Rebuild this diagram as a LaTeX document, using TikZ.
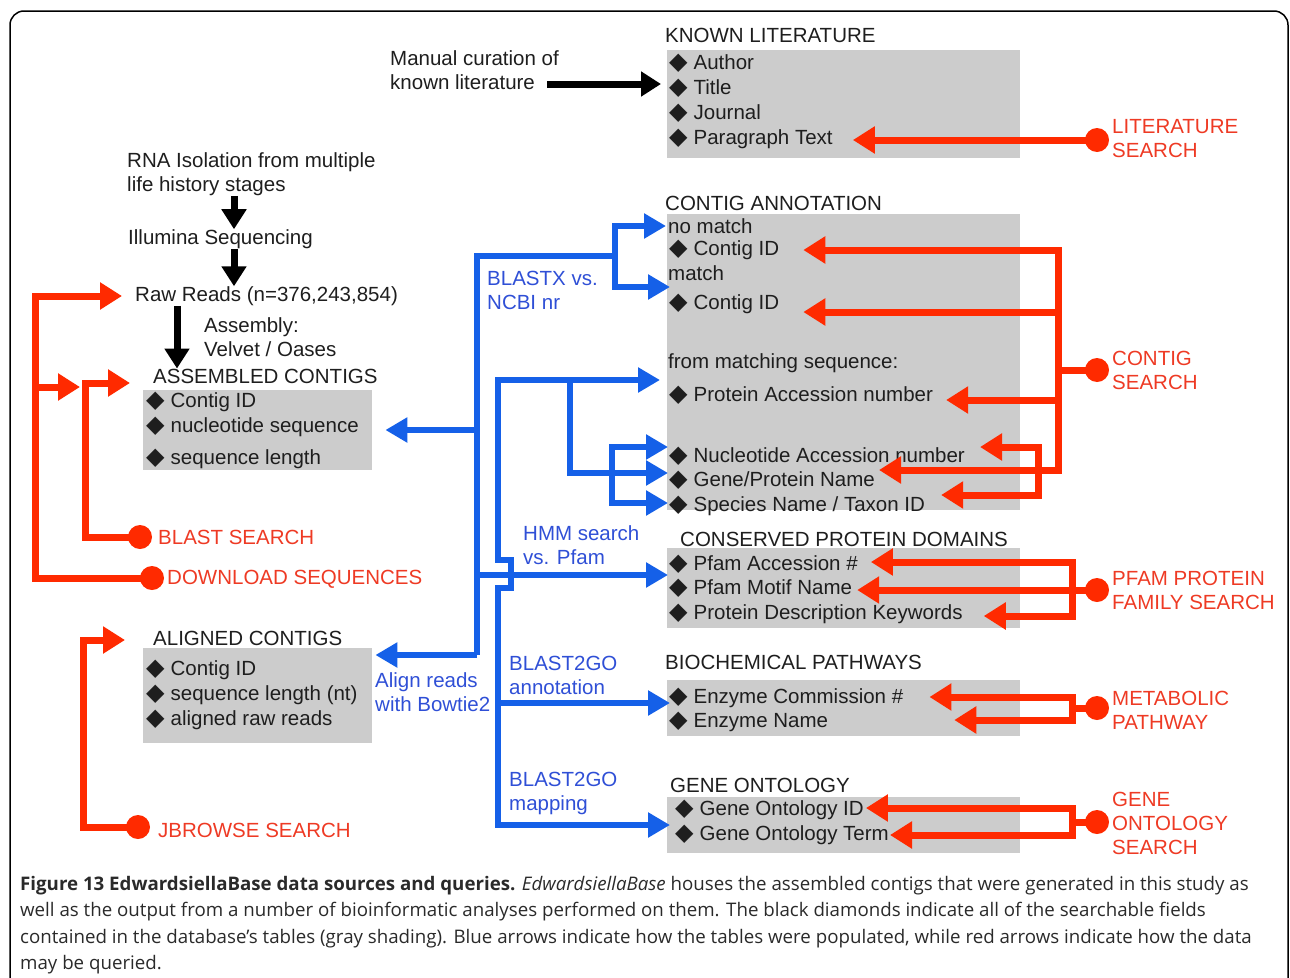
\documentclass[tikz,border=0pt]{standalone}
\usepackage{fontspec}
\setmainfont{Liberation Sans}
\newfontfamily\symfont{DejaVu Sans}
\newfontfamily\capfont{Open Sans}
\usetikzlibrary{arrows.meta,positioning}
\definecolor{qred}{HTML}{FF2A00}
\definecolor{qredtxt}{HTML}{EE3A24}
\definecolor{pblue}{HTML}{1560E8}
\definecolor{pbluetxt}{HTML}{2F4FD6}
\definecolor{boxgray}{HTML}{CCCCCC}
\definecolor{txtgray}{HTML}{1E1E1E}
\definecolor{capgray}{HTML}{2A2A2A}
\newcommand{\dia}{{\symfont\fontsize{24}{24}\selectfont\char"25C6}\hspace{6pt}}
\begin{document}
\begin{tikzpicture}[x=1pt, y=-1pt,
    lbl/.style={font=\fontsize{20.5}{24}\selectfont, text=txtgray, inner sep=0pt, anchor=west, align=left},
    item/.style={lbl, text height=15pt, text depth=4pt},
    qlbl/.style={lbl, text=qredtxt},
    plbl/.style={lbl, text=pbluetxt},
    table/.style={fill=boxgray, inner sep=0pt, anchor=north west},
    qarrow/.style={draw=qred, line width=7pt, -{Triangle[length=22pt,width=26pt]}},
    qline/.style={draw=qred, line width=7pt},
    parrow/.style={draw=pblue, line width=6pt, -{Triangle[length=22pt,width=24pt]}},
    pline/.style={draw=pblue, line width=6pt},
    karrow/.style={draw=black, line width=7pt, -{Triangle[length=20pt,width=24pt]}},
    qdot/.style={circle, fill=qred, minimum size=24pt, inner sep=0pt}
]
    \useasboundingbox (0,0) rectangle (1290,977);
    \draw[line width=1.5pt, rounded corners=14pt] (10,11) rectangle (1288,1010);

    % tables
    \node[table, minimum width=353pt, minimum height=108pt] (litbox) at (667,50) {};
    \node[table, minimum width=353pt, minimum height=296pt] (cabox) at (667,214) {};
    \node[table, minimum width=353pt, minimum height=80pt] (cpbox) at (667,548) {};
    \node[table, minimum width=353pt, minimum height=56pt] (mpbox) at (667,680) {};
    \node[table, minimum width=353pt, minimum height=56pt] (gobox) at (667,797) {};
    \node[table, minimum width=229pt, minimum height=80pt] (acbox) at (143,390) {};
    \node[table, minimum width=229pt, minimum height=95pt] (albox) at (143,648) {};

    % known literature
    \node[lbl] (klhead) at (665,35) {KNOWN LITERATURE};
    \node[item] (kl1) at (669,64) {\dia Author};
    \node[item] (kl2) at (669,89) {\dia Title};
    \node[item] (kl3) at (669,114) {\dia Journal};
    \node[item] (kl4) at (669,139) {\dia Paragraph Text};
    \node[lbl] (manual) at (390,70) {Manual curation of\\known literature};
    \draw[karrow] ([xshift=-12pt]manual.east |- 0,84) -- ([xshift=-8pt]kl2.west |- 0,84);
    \node[qdot] (lsdot) at (1097,140) {};
    \node[qlbl] (ls) at (1112,139) {LITERATURE\\SEARCH};
    \draw[qarrow] (lsdot.center) -- ([xshift=20pt]kl4.east |- lsdot);

    % sequencing
    \node[lbl] (rna) at (127,174) {RNA Isolation from multiple\\life history stages};
    \node[lbl] (illu) at (128,239) {Illumina Sequencing};
    \node[lbl] (raw) at (135,296) {Raw Reads (n=376,243,854)};
    \node[lbl] (asm) at (204,337) {Assembly:\\Velvet / Oases};
    \draw[karrow] (rna.south -| 234,0) -- (illu.north -| 234,0);
    \draw[karrow] (illu.south -| 234,0) -- (raw.north -| 234,0);

    % assembled contigs
    \node[lbl] (achead) at (153,376) {ASSEMBLED CONTIGS};
    \node[item] (ac1) at (146,402) {\dia Contig ID};
    \node[item] (ac2) at (146,427) {\dia nucleotide sequence};
    \node[item] (ac3) at (146,459) {\dia sequence length};
    \draw[karrow] (raw.south -| 177,0) -- (achead.north -| 177,0);

    % aligned contigs
    \node[lbl] (alhead) at (153,638) {ALIGNED CONTIGS};
    \node[item] (al1) at (146,670) {\dia Contig ID};
    \node[item] (al2) at (146,695) {\dia sequence length (nt)};
    \node[item] (al3) at (146,720) {\dia aligned raw reads};

    % left queries
    \node[qdot] (bsdot) at (140,537) {};
    \node[qlbl] (bs) at (158,537) {BLAST SEARCH};
    \node[qdot] (dsdot) at (152,578) {};
    \node[qlbl] (ds) at (167,579) {DOWNLOAD SEQUENCES};
    \node[qdot] (jbdot) at (138,827) {};
    \node[qlbl] (jb) at (158,830) {JBROWSE SEARCH};
    \draw[qarrow] (bsdot.center) -| (85,383) -- ([xshift=-23pt]achead.west |- 0,383);
    \draw[qarrow] (dsdot.center) -| (35,296) -- ([xshift=-13pt]raw.west);
    \draw[qarrow] (35,387) -- (80,387);
    \draw[qarrow] (jbdot.center) -| (83,640) -- ([xshift=-28pt]alhead.west |- 0,640);

    % contig annotation
    \node[lbl] (cahead) at (665,203) {CONTIG ANNOTATION};
    \node[lbl] (nomatch) at (668,226) {no match};
    \node[item] (ca1) at (669,250) {\dia Contig ID};
    \node[lbl] (match) at (668,273) {match};
    \node[item] (ca2) at (669,304) {\dia Contig ID};
    \node[lbl] (fromseq) at (668,363) {from matching sequence:};
    \node[item] (ca3) at (669,396) {\dia Protein Accession number};
    \node[item] (ca4) at (669,457) {\dia Nucleotide Accession number};
    \node[item] (ca5) at (669,481) {\dia Gene/Protein Name};
    \node[item] (ca6) at (669,506) {\dia Species Name / Taxon ID};
    \node[qdot] (csdot) at (1097,370) {};
    \node[qlbl] (cs) at (1112,370) {CONTIG\\SEARCH};
    \draw[qarrow] (csdot.center) -| (1058,250) -- ([xshift=24pt]ca1.east |- 0,250);
    \draw[qarrow] (1058,312) -- ([xshift=24pt]ca2.east |- 0,312);
    \draw[qarrow] (1058,400) -- ([xshift=13pt]ca3.east |- 0,400);
    \draw[qarrow] (csdot.center) -| (1058,470) -- ([xshift=4pt]ca5.east |- 0,470);
    \draw[qarrow] (1038,470) |- ([xshift=15pt]ca4.east |- 0,447);
    \draw[qarrow] (1038,470) |- ([xshift=16pt]ca6.east |- 0,495);

    % conserved protein domains
    \node[lbl] (cphead) at (680,539) {CONSERVED PROTEIN DOMAINS};
    \node[item] (cp1) at (669,565) {\dia Pfam Accession \#};
    \node[item] (cp2) at (669,589) {\dia Pfam Motif Name};
    \node[item] (cp3) at (669,614) {\dia Protein Description Keywords};
    \node[qdot] (pfdot) at (1097,590) {};
    \node[qlbl] (pf) at (1112,590) {PFAM PROTEIN\\FAMILY SEARCH};
    \draw[qarrow] (pfdot.center) -| (1072,562) -- ([xshift=13pt]cp1.east |- 0,562);
    \draw[qarrow] (pfdot.center) -- ([xshift=5pt]cp2.east |- pfdot);
    \draw[qarrow] (pfdot.center) -| (1072,616) -- ([xshift=21pt]cp3.east |- 0,616);

    % biochemical pathways
    \node[lbl] (mphead) at (665,662) {BIOCHEMICAL PATHWAYS};
    \node[item] (mp1) at (669,698) {\dia Enzyme Commission \#};
    \node[item] (mp2) at (669,722) {\dia Enzyme Name};
    \node[qdot] (mpdot) at (1097,708) {};
    \node[qlbl] (mp) at (1112,710) {METABOLIC\\PATHWAY};
    \draw[qarrow] (mpdot.center) -| (1072,697) -- ([xshift=26pt]mp1.east |- 0,697);
    \draw[qarrow] (mpdot.center) -| (1072,720) -- ([xshift=126pt]mp2.east |- 0,720);

    % gene ontology
    \node[lbl] (gohead) at (670,785) {GENE ONTOLOGY};
    \node[item] (go1) at (675,810) {\dia Gene Ontology ID};
    \node[item] (go2) at (675,835) {\dia Gene Ontology Term};
    \node[qdot] (godot) at (1097,822) {};
    \node[qlbl] (go) at (1112,823) {GENE\\ONTOLOGY\\SEARCH};
    \draw[qarrow] (godot.center) -| (1072,808) -- ([xshift=2pt]go1.east |- 0,808);
    \draw[qarrow] (godot.center) -| (1072,835) -- ([xshift=1pt]go2.east |- 0,835);

    % blue: how the tables were populated
    \node[plbl] (blastx) at (487,290) {BLASTX vs.\\NCBI nr};
    \node[plbl] (hmm) at (523,545) {HMM search\\vs. Pfam};
    \node[plbl] (bowtie) at (375,692) {Align reads\\with Bowtie2};
    \node[plbl] (b2ga) at (509,675) {BLAST2GO\\annotation};
    \node[plbl] (b2gm) at (509,793) {BLAST2GO\\mapping};
    \draw[parrow] (477,655) |- (615,256) |- ([xshift=-2pt]nomatch.west);
    \draw[parrow] (615,256) |- ([xshift=2pt]match.west |- 0,287);
    \draw[parrow] (477,655) -- ([xshift=3pt]albox.east |- 0,655);
    \draw[parrow] (477,430) -- ([xshift=13pt]acbox.east |- 0,430);
    \draw[parrow] (477,575) -- ([xshift=-1pt]cp1.west |- 0,575);
    \draw[parrow] (511,575) |- (498,560) -- (498,380) -- ([xshift=-8pt]fromseq.west |- 0,380);
    \draw[parrow] (511,575) |- (498,588) |- ([xshift=3pt]gobox.west |- 0,825);
    \draw[parrow] (498,703) -- ([xshift=3pt]mpbox.west |- 0,703);
    \draw[parrow] (570,380) |- (612,473) |- ([xshift=-1pt]ca4.west |- 0,447);
    \draw[parrow] (612,473) -- ([xshift=-1pt]ca5.west |- 0,473);
    \draw[parrow] (612,473) |- ([xshift=-1pt]ca6.west |- 0,503);

    % caption
    \node[inner sep=0pt, anchor=north west, align=left, text=capgray,
          font=\capfont\fontsize{18.7}{26.3}\selectfont] (caption) at (20,876)
        {\textbf{Figure 13 EdwardsiellaBase data sources and queries.} \textit{EdwardsiellaBase} houses the assembled contigs that were generated in this study as\\
         well as the output from a number of bioinformatic analyses performed on them. The black diamonds indicate all of the searchable fields\\
         contained in the database’s tables (gray shading). Blue arrows indicate how the tables were populated, while red arrows indicate how the data\\
         may be queried.};
\end{tikzpicture}
\end{document}
